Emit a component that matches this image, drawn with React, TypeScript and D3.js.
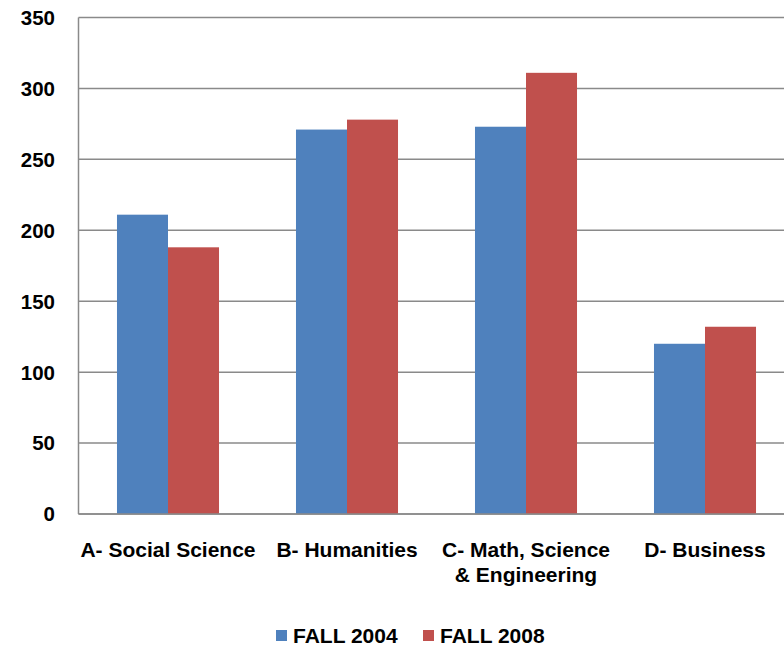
import React from 'react';
import * as d3 from 'd3';

const categories = ['A- Social Science', 'B- Humanities', 'C- Math, Science\n& Engineering', 'D- Business'];
const fall2004 = [211, 271, 273, 120];
const fall2008 = [188, 278, 311, 132];
const seriesNames = ['FALL 2004', 'FALL 2008'];
const seriesColors = ['#4F81BD', '#C0504D'];
const yTicks = [0, 50, 100, 150, 200, 250, 300, 350];

const width = 784;
const height = 648;
const left = 78.5;
const top = 17.5;
const bottom = 514;
const font = 'Arial, "Liberation Sans", sans-serif';

const App: React.FC = () => {
  const x = d3.scaleBand<string>()
    .domain(categories)
    .range([left, left + 4 * 179])
    .paddingInner(0.43)
    .paddingOuter(0.215);

  const x1 = d3.scaleBand<string>()
    .domain(seriesNames)
    .range([0, x.bandwidth()]);

  const y = d3.scaleLinear().domain([0, 350]).range([bottom, top]);

  const series = [fall2004, fall2008];

  return (
    <svg
      width={width}
      height={height}
      style={{ position: 'absolute', left: 0, top: 0, background: '#fff' }}
      fontFamily={font}
    >
      {/* gridlines */}
      {yTicks.map((t) => (
        <line
          key={t}
          x1={left}
          x2={width}
          y1={y(t)}
          y2={y(t)}
          stroke="#8a8a8a"
          strokeWidth={1.5}
        />
      ))}
      {/* y axis line */}
      <line x1={left} x2={left} y1={top} y2={bottom} stroke="#8a8a8a" strokeWidth={1.5} />

      {/* y labels */}
      {yTicks.map((t) => (
        <text
          key={t}
          x={55}
          y={y(t)}
          dy="0.36em"
          textAnchor="end"
          fontSize={20.5}
          fontWeight="bold"
          fill="#000"
        >
          {t}
        </text>
      ))}

      {/* bars */}
      {categories.map((c, ci) => (
        <g key={c} transform={`translate(${x(c)},0)`}>
          {series.map((s, si) => (
            <rect
              key={si}
              x={x1(seriesNames[si])}
              y={y(s[ci])}
              width={x1.bandwidth()}
              height={y(0) - y(s[ci])}
              fill={seriesColors[si]}
            />
          ))}
        </g>
      ))}

      {/* baseline */}
      <line x1={left} x2={width} y1={bottom} y2={bottom} stroke="#8a8a8a" strokeWidth={1.5} />

      {/* category labels */}
      {categories.map((c) => (
        <text
          key={c}
          x={(x(c) as number) + x.bandwidth() / 2}
          y={557}
          textAnchor="middle"
          fontSize={21}
          fontWeight="bold"
          fill="#000"
        >
          {c.split('\n').map((line, i) => (
            <tspan key={i} x={(x(c) as number) + x.bandwidth() / 2} dy={i === 0 ? 0 : 25}>
              {line}
            </tspan>
          ))}
        </text>
      ))}

      {/* legend */}
      {seriesNames.map((n, i) => {
        const lx = [276, 423][i];
        return (
          <g key={n}>
            <rect x={lx} y={630} width={11} height={11} fill={seriesColors[i]} />
            <text x={lx + 17} y={643} fontSize={21} fontWeight="bold" fill="#000">
              {n}
            </text>
          </g>
        );
      })}
    </svg>
  );
};

export default App;
